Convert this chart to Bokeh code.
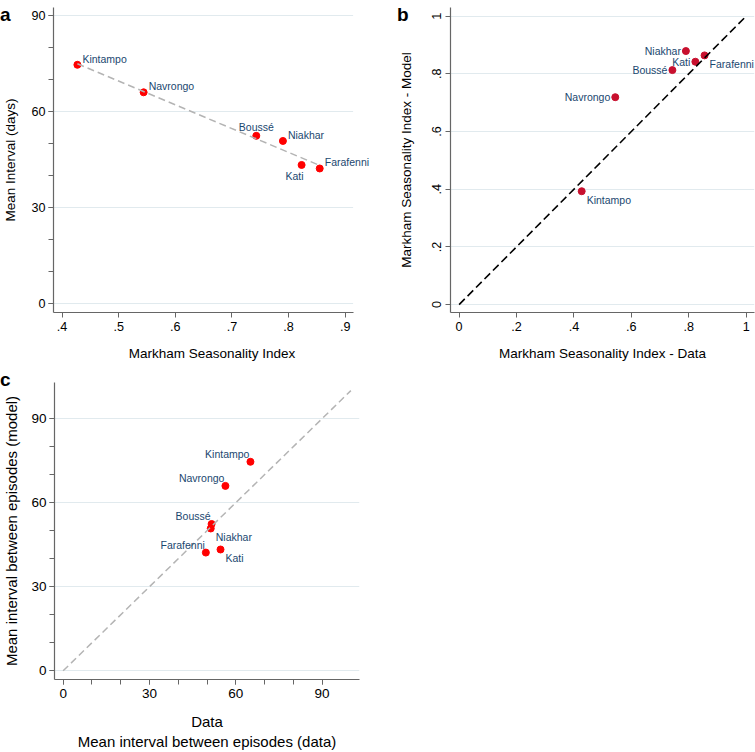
import numpy as np
from bokeh.plotting import figure
from bokeh.layouts import column, row
from bokeh.models import Range1d, FixedTicker, Label, Div
from bokeh.embed import file_html
from bokeh.resources import INLINE

# ---------------- data ----------------
sites = ["Kintampo", "Navrongo", "Boussé", "Niakhar", "Kati", "Farafenni"]
msi_data = [0.427, 0.544, 0.743, 0.790, 0.823, 0.855]
msi_model = [0.393, 0.719, 0.813, 0.879, 0.842, 0.864]
interval_model = [74.6, 66.0, 52.4, 50.8, 43.3, 42.2]
interval_data = [65.1, 56.4, 51.6, 51.3, 54.7, 49.6]

diag_b = [0, 1]
diag_c = [0, 100]

xticks_a = [0.4, 0.5, 0.6, 0.7, 0.8, 0.9]
xtick_labels_a = [".4", ".5", ".6", ".7", ".8", ".9"]
yticks_a = [0, 30, 60, 90]
yminor_a = [0, 10, 20, 30, 40, 50, 60, 70, 80, 90]
ticks_b = [0, 0.2, 0.4, 0.6, 0.8, 1]
tick_labels_b = ["0", ".2", ".4", ".6", ".8", "1"]
ticks_c = [0, 30, 60, 90]
minor_c = [0, 10, 20, 30, 40, 50, 60, 70, 80, 90]
panel_letters = ["a", "b", "c"]

# ---------------- style ----------------
FONT = "Liberation Sans"
LABEL_COLOR = "#1a476f"
AXIS_COLOR = "#666666"
GRID_COLOR = "#e1eaee"
# marker-label clock positions (Stata style): align, dx, dy (screen px, dy down)
CLOCK = {2: ("left", 5, -6), 12: ("center", 0, -9), 7: ("right", 2, 11),
         9: ("right", -5, 0), 4: ("left", 5, 9), 11: ("right", -1, -8)}
pos_a = [2, 2, 12, 2, 7, 2]
pos_b = [4, 9, 9, 9, 9, 4]
pos_c = [11, 11, 11, 4, 4, 11]
# axis extents of panel a (plot area is wider so the right-most label is not clipped)
xaxis_a = (0.3848, 0.914)
xview_a = (0.3848, 0.9447)


def style(p, tick_size, label_size):
    p.outline_line_color = None
    p.background_fill_color = "white"
    p.border_fill_color = "white"
    p.xgrid.visible = False
    p.ygrid.grid_line_color = GRID_COLOR
    p.ygrid.grid_line_width = 1
    for ax in (p.xaxis[0], p.yaxis[0]):
        ax.axis_line_color = AXIS_COLOR
        ax.axis_line_width = 1.2
        ax.major_tick_line_color = AXIS_COLOR
        ax.minor_tick_line_color = AXIS_COLOR
        ax.major_tick_in = 0
        ax.major_tick_out = 5
        ax.minor_tick_in = 0
        ax.minor_tick_out = 5
        ax.major_label_text_font = FONT
        ax.major_label_text_font_size = tick_size
        ax.major_label_text_color = "black"
        ax.axis_label_text_font = FONT
        ax.axis_label_text_font_size = label_size
        ax.axis_label_text_font_style = "normal"
        ax.axis_label_text_color = "black"


def add_labels(p, xs, ys, positions):
    for xv, yv, name, pos in zip(xs, ys, sites, positions):
        align, dx, dy = CLOCK[pos]
        p.add_layout(Label(x=xv, y=yv, text=name, x_offset=dx, y_offset=-dy,
                           text_align=align, text_baseline="middle",
                           text_font=FONT, text_font_size="10.5px",
                           text_color=LABEL_COLOR, level="overlay"))


# ---------------- panel a ----------------
pa = figure(width=370, height=370, output_backend="svg", toolbar_location=None,
            x_range=Range1d(*xview_a), y_range=Range1d(-2.8, 92.5),
            min_border_left=49, min_border_right=0, min_border_top=7, min_border_bottom=58)
style(pa, "12.6px", "13.5px")
pa.ygrid.visible = False
pa.segment(x0=xaxis_a[0], x1=xaxis_a[1], y0=yticks_a, y1=yticks_a,
           line_color=GRID_COLOR, line_width=1, level="underlay")
pa.xaxis.bounds = xaxis_a
pa.xaxis.ticker = FixedTicker(ticks=xticks_a)
pa.xaxis.major_label_overrides = dict(zip(xticks_a, xtick_labels_a))
pa.yaxis.ticker = FixedTicker(ticks=yticks_a, minor_ticks=yminor_a)
pa.xaxis.axis_label = "Markham Seasonality Index"
pa.yaxis.axis_label = "Mean Interval (days)"
pa.xaxis.major_label_standoff = 4
pa.yaxis.major_label_standoff = 3
pa.xaxis.axis_label_standoff = 12
pa.yaxis.axis_label_standoff = 10
pa.scatter(msi_data, interval_model, size=7, fill_color="#ff0000", line_color="#ff0000")
slope, icpt = np.polyfit(msi_data, interval_model, 1)
fx = [min(msi_data), max(msi_data)]
pa.line(fx, [slope * v + icpt for v in fx], line_color="#b4b4b4", line_width=1.5, line_dash="7 4")
add_labels(pa, msi_data, interval_model, pos_a)

# ---------------- panel b ----------------
pb = figure(width=385, height=370, output_backend="svg", toolbar_location=None,
            x_range=Range1d(-0.030, 1.029), y_range=Range1d(-0.0275, 1.030),
            min_border_left=80, min_border_right=1, min_border_top=7, min_border_bottom=55)
style(pb, "12.6px", "13.5px")
pb.xaxis.ticker = FixedTicker(ticks=ticks_b)
pb.yaxis.ticker = FixedTicker(ticks=ticks_b)
pb.xaxis.major_label_overrides = dict(zip(ticks_b, tick_labels_b))
pb.yaxis.major_label_overrides = dict(zip(ticks_b, tick_labels_b))
pb.yaxis.major_label_orientation = "vertical"
pb.xaxis.axis_label = "Markham Seasonality Index - Data"
pb.yaxis.axis_label = "Markham Seasonality Index - Model"
pb.xaxis.major_label_standoff = 4
pb.yaxis.major_label_standoff = 4
pb.xaxis.axis_label_standoff = 12
pb.yaxis.axis_label_standoff = 16
pb.scatter(msi_data, msi_model, size=7, fill_color="#c8102e", line_color="#c8102e")
pb.line(diag_b, diag_b, line_color="black", line_width=1.6, line_dash="8 4")
add_labels(pb, msi_data, msi_model, pos_b)

# ---------------- panel c ----------------
pc = figure(width=370, height=382, output_backend="svg", toolbar_location=None,
            x_range=Range1d(-3.0, 103.0), y_range=Range1d(-3.1, 102.9),
            min_border_left=54, min_border_right=11, min_border_top=12, min_border_bottom=65)
style(pc, "13.5px", "15px")
pc.xaxis.ticker = FixedTicker(ticks=ticks_c, minor_ticks=minor_c)
pc.yaxis.ticker = FixedTicker(ticks=ticks_c, minor_ticks=minor_c)
pc.xaxis.axis_label = "Data\nMean interval between episodes (data)"
pc.yaxis.axis_label = "Mean interval between episodes (model)"
pc.xaxis.major_label_standoff = 4
pc.yaxis.major_label_standoff = 3
pc.xaxis.axis_label_standoff = 12
pc.yaxis.axis_label_standoff = 8
pc.scatter(interval_data, interval_model, size=7, fill_color="#ff0000", line_color="#ff0000")
pc.line(diag_c, diag_c, line_color="#b4b4b4", line_width=1.5, line_dash="7 4")
add_labels(pc, interval_data, interval_model, pos_c)

# ---------------- panel letters (HTML overlay in the empty bottom-right cell) -----
letter_spots = [(-375, -382), (22, -382), (-375, -17)]
spans = "".join(
    f'<span style="position:absolute;left:{lx}px;top:{ly}px;font-family:\'{FONT}\';'
    f'font-weight:bold;font-size:19px;line-height:19px;color:black;">{t}</span>'
    for t, (lx, ly) in zip(panel_letters, letter_spots))
letters = Div(text=f'<div style="position:relative;width:0;height:0;">{spans}</div>',
              width=385, height=382, styles={"overflow": "visible", "z-index": "10"})

layout = column(row(pa, pb), row(pc, letters))
open("out.html", "w").write(file_html(layout, INLINE))
